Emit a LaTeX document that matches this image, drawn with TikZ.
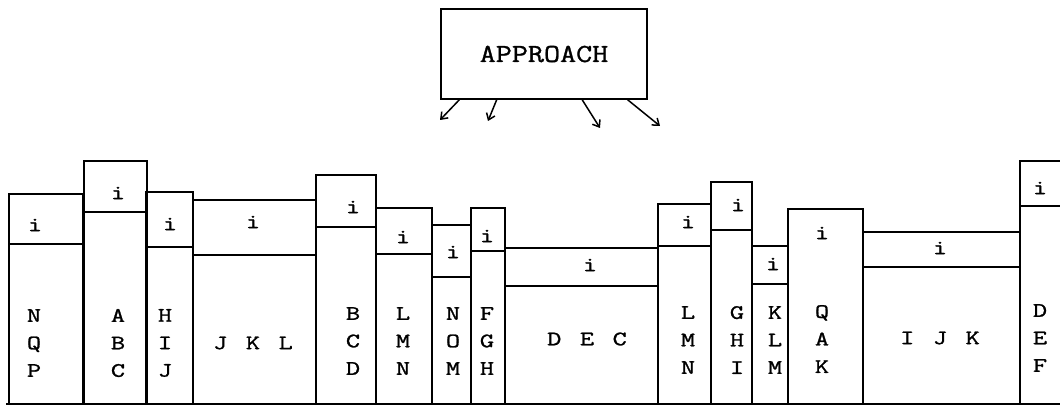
\documentclass[tikz,border=0pt]{standalone}
\usepackage{fontspec}
\newfontfamily\twfont[FakeBold=1.2,FakeStretch=1.35]{Latin Modern Mono}
\newfontfamily\apfont[FakeBold=1.2,FakeStretch=1.2]{Latin Modern Mono}
\usetikzlibrary{arrows.meta,calc}
\newcommand\lgap{\hspace{18.5pt}}
\newcommand\mybook[4]{\draw[bk] (#1,404) |- (#2,#3) -- (#2,404); \draw[bk] (#1,#4) -- (#2,#4);}
\begin{document}
\begin{tikzpicture}[x=1pt,y=-1pt,
  bk/.style={line width=1.5pt},
  lbl/.style={font=\fontsize{20.5}{27.5}\selectfont\twfont, align=center, inner sep=0pt},
  arr/.style={line width=1.5pt, -{Straight Barb[length=6pt,width=9pt]}}]
\useasboundingbox (0,0) rectangle (1060,406);
% approach box
\node[draw, line width=1.6pt, minimum width=206pt, minimum height=90pt, font=\fontsize{26}{30}\selectfont\apfont] (ap) at (544,54) {APPROACH};
\coordinate (e1) at (440,120);
\coordinate (e2) at (488,121);
\coordinate (e3) at (600,128);
\coordinate (e4) at (660,126);
\draw[arr] ($(ap.south west)!0.092!(ap.south east)$) -- (e1);
\draw[arr] ($(ap.south west)!0.272!(ap.south east)$) -- (e2);
\draw[arr] ($(ap.south west)!0.684!(ap.south east)$) -- (e3);
\draw[arr] ($(ap.south west)!0.903!(ap.south east)$) -- (e4);
% books
\mybook{9}{83}{194}{244}
\mybook{84}{147}{161}{212}
\mybook{146}{193}{192}{247}
\mybook{193}{316}{200}{255}
\mybook{316}{376}{175}{227}
\mybook{376}{432}{208}{254}
\mybook{432}{471}{225}{277}
\mybook{471}{505}{208}{251}
\mybook{505}{658}{248}{286}
\mybook{658}{711}{204}{246}
\mybook{711}{752}{182}{230}
\mybook{752}{788}{246}{284}
\draw[bk] (788,404) |- (863,209) -- (863,404);
\mybook{863}{1020}{232}{267}
\draw[bk] (1020,404) |- (1062,161);
\draw[bk] (1020,206) -- (1062,206);
\draw[bk] (6,404) -- (1062,404);
% i labels
\node[lbl] (i1) at (35,225) {i};
\node[lbl] (i2) at (118,193) {i};
\node[lbl] (i3) at (170,224) {i};
\node[lbl] (i4) at (253,222) {i};
\node[lbl] (i5) at (353,207) {i};
\node[lbl] (i6) at (403,237) {i};
\node[lbl] (i7) at (453,252) {i};
\node[lbl] (i8) at (487,236) {i};
\node[lbl] (i9) at (590,265) {i};
\node[lbl] (i10) at (688,222) {i};
\node[lbl] (i11) at (738,205) {i};
\node[lbl] (i12) at (773,264) {i};
\node[lbl] (i13) at (822,233) {i};
\node[lbl] (i14) at (940,248) {i};
\node[lbl] (i15) at (1040,188) {i};
% spine labels
\node[lbl] (t1) at (34,343) {N\\Q\\P};
\node[lbl] (t2) at (118,343) {A\\B\\C};
\node[lbl] (t3) at (165,343) {H\\I\\J};
\node[lbl] (t4) at (253,343) {J\lgap K\lgap L};
\node[lbl] (t5) at (353,341) {B\\C\\D};
\node[lbl] (t6) at (403,341) {L\\M\\N};
\node[lbl] (t7) at (453,341) {N\\O\\M};
\node[lbl] (t8) at (487,341) {F\\G\\H};
\node[lbl] (t9) at (587,339) {D\lgap E\lgap C};
\node[lbl] (t10) at (688,340) {L\\M\\N};
\node[lbl] (t11) at (737,340) {G\\H\\I};
\node[lbl] (t12) at (775,340) {K\\L\\M};
\node[lbl] (t13) at (822,339) {Q\\A\\K};
\node[lbl] (t14) at (940,338) {I\lgap J\lgap K};
\node[lbl] (t15) at (1040,338) {D\\E\\F};
\end{tikzpicture}
\end{document}
